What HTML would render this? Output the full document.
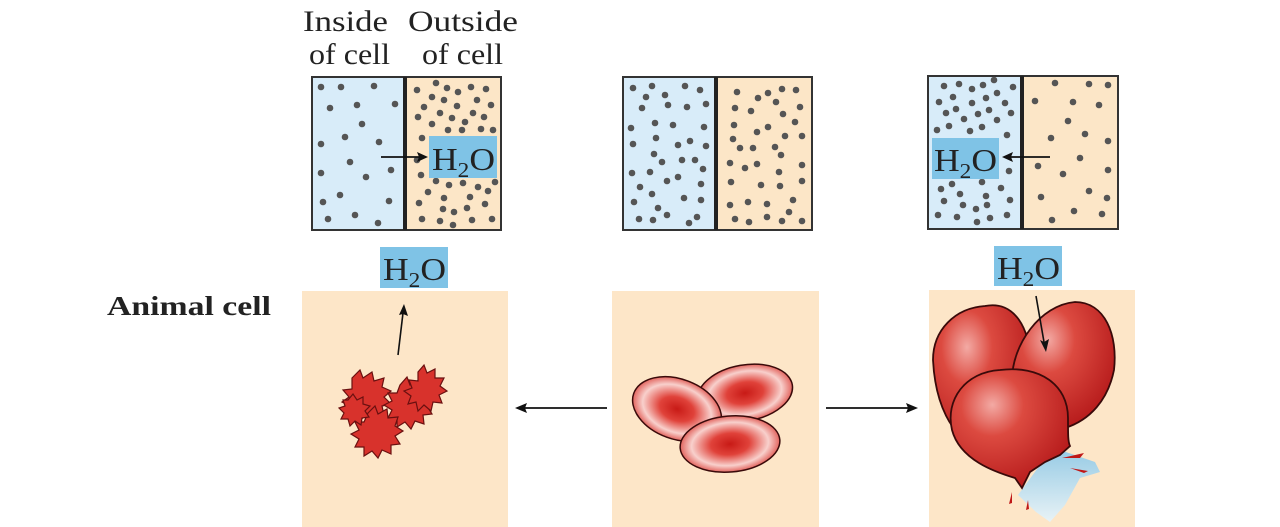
<!DOCTYPE html>
<html><head><meta charset="utf-8"><style>
html,body{margin:0;padding:0;background:#fff;width:1280px;height:527px;overflow:hidden}
svg text{font-family:"Liberation Serif",serif}
</style></head><body>
<svg width="1280" height="527" viewBox="0 0 1280 527" xmlns="http://www.w3.org/2000/svg">
<defs>
<radialGradient id="disc" cx="50%" cy="50%" r="55%"><stop offset="0" stop-color="#c81a16"/><stop offset="0.35" stop-color="#e0423a"/><stop offset="0.7" stop-color="#f8d0cc"/><stop offset="1" stop-color="#d9362f"/></radialGradient>
<radialGradient id="ball" cx="35%" cy="30%" r="75%"><stop offset="0" stop-color="#f3aaa4"/><stop offset="0.35" stop-color="#dc4a40"/><stop offset="1" stop-color="#b5191a"/></radialGradient>
<linearGradient id="spray" x1="0" y1="0" x2="0" y2="1"><stop offset="0" stop-color="#8cc8e8"/><stop offset="1" stop-color="#e6f4fb"/></linearGradient>
</defs>
<g font-size="30" fill="#222">
<text x="303" y="31" textLength="85" lengthAdjust="spacingAndGlyphs">Inside</text>
<text x="309" y="64" textLength="81" lengthAdjust="spacingAndGlyphs">of cell</text>
<text x="408" y="31" textLength="110" lengthAdjust="spacingAndGlyphs">Outside</text>
<text x="422" y="64" textLength="81" lengthAdjust="spacingAndGlyphs">of cell</text>
</g>
<!-- box1 -->
<rect x="312" y="77" width="94" height="153" fill="#d8ecf9"/>
<rect x="406" y="77" width="95" height="153" fill="#fce6c7"/>
<rect x="312" y="77" width="189" height="153" fill="none" stroke="#333" stroke-width="2"/>
<line x1="405" y1="77" x2="405" y2="230" stroke="#222" stroke-width="4"/>
<g fill="#555">
<circle cx="321" cy="87" r="3.3"/><circle cx="341" cy="87" r="3.3"/><circle cx="374" cy="86" r="3.3"/><circle cx="330" cy="108" r="3.3"/><circle cx="357" cy="105" r="3.3"/><circle cx="395" cy="104" r="3.3"/><circle cx="362" cy="124" r="3.3"/><circle cx="345" cy="137" r="3.3"/><circle cx="321" cy="144" r="3.3"/><circle cx="379" cy="142" r="3.3"/><circle cx="350" cy="162" r="3.3"/><circle cx="321" cy="173" r="3.3"/><circle cx="391" cy="170" r="3.3"/><circle cx="366" cy="177" r="3.3"/><circle cx="340" cy="195" r="3.3"/><circle cx="323" cy="202" r="3.3"/><circle cx="389" cy="201" r="3.3"/><circle cx="328" cy="219" r="3.3"/><circle cx="355" cy="215" r="3.3"/><circle cx="378" cy="223" r="3.3"/>
<circle cx="417" cy="90" r="3.3"/><circle cx="436" cy="83" r="3.3"/><circle cx="447" cy="88" r="3.3"/><circle cx="458" cy="92" r="3.3"/><circle cx="471" cy="87" r="3.3"/><circle cx="486" cy="89" r="3.3"/><circle cx="432" cy="97" r="3.3"/><circle cx="444" cy="100" r="3.3"/><circle cx="477" cy="100" r="3.3"/><circle cx="424" cy="107" r="3.3"/><circle cx="457" cy="106" r="3.3"/><circle cx="491" cy="105" r="3.3"/><circle cx="418" cy="117" r="3.3"/><circle cx="440" cy="113" r="3.3"/><circle cx="452" cy="118" r="3.3"/><circle cx="473" cy="113" r="3.3"/><circle cx="484" cy="117" r="3.3"/><circle cx="432" cy="124" r="3.3"/><circle cx="448" cy="130" r="3.3"/><circle cx="462" cy="130" r="3.3"/><circle cx="465" cy="122" r="3.3"/><circle cx="481" cy="129" r="3.3"/><circle cx="493" cy="130" r="3.3"/><circle cx="422" cy="138" r="3.3"/><circle cx="421" cy="175" r="3.3"/><circle cx="417" cy="160" r="3.3"/><circle cx="436" cy="181" r="3.3"/><circle cx="449" cy="185" r="3.3"/><circle cx="463" cy="183" r="3.3"/><circle cx="478" cy="187" r="3.3"/><circle cx="495" cy="182" r="3.3"/><circle cx="428" cy="192" r="3.3"/><circle cx="444" cy="198" r="3.3"/><circle cx="470" cy="197" r="3.3"/><circle cx="488" cy="191" r="3.3"/><circle cx="419" cy="203" r="3.3"/><circle cx="443" cy="209" r="3.3"/><circle cx="454" cy="212" r="3.3"/><circle cx="467" cy="208" r="3.3"/><circle cx="485" cy="204" r="3.3"/><circle cx="422" cy="219" r="3.3"/><circle cx="440" cy="221" r="3.3"/><circle cx="453" cy="225" r="3.3"/><circle cx="472" cy="220" r="3.3"/><circle cx="492" cy="219" r="3.3"/>
</g>
<rect x="429" y="136" width="68" height="42" fill="#7fc3e6"/>
<text x="432" y="170" font-size="32" fill="#222" textLength="63" lengthAdjust="spacingAndGlyphs">H<tspan font-size="21" dy="7">2</tspan><tspan dy="-7">O</tspan></text>
<line x1="381" y1="157" x2="420" y2="157" stroke="#111" stroke-width="1.8"/><path d="M428 157 L417 152 L419 157 L417 162Z" fill="#111"/>
<!-- box2 -->
<rect x="623" y="77" width="94" height="153" fill="#d8ecf9"/>
<rect x="717" y="77" width="95" height="153" fill="#fce6c7"/>
<rect x="623" y="77" width="189" height="153" fill="none" stroke="#333" stroke-width="2"/>
<line x1="716" y1="77" x2="716" y2="230" stroke="#222" stroke-width="4"/>
<g fill="#555">
<circle cx="633" cy="88" r="3.3"/><circle cx="652" cy="86" r="3.3"/><circle cx="685" cy="86" r="3.3"/><circle cx="700" cy="90" r="3.3"/><circle cx="646" cy="97" r="3.3"/><circle cx="665" cy="95" r="3.3"/><circle cx="642" cy="108" r="3.3"/><circle cx="668" cy="105" r="3.3"/><circle cx="687" cy="107" r="3.3"/><circle cx="706" cy="104" r="3.3"/><circle cx="631" cy="128" r="3.3"/><circle cx="655" cy="123" r="3.3"/><circle cx="673" cy="125" r="3.3"/><circle cx="704" cy="127" r="3.3"/><circle cx="633" cy="144" r="3.3"/><circle cx="656" cy="138" r="3.3"/><circle cx="678" cy="145" r="3.3"/><circle cx="690" cy="141" r="3.3"/><circle cx="706" cy="146" r="3.3"/><circle cx="654" cy="154" r="3.3"/><circle cx="662" cy="162" r="3.3"/><circle cx="682" cy="160" r="3.3"/><circle cx="695" cy="160" r="3.3"/><circle cx="703" cy="169" r="3.3"/><circle cx="632" cy="173" r="3.3"/><circle cx="650" cy="172" r="3.3"/><circle cx="667" cy="181" r="3.3"/><circle cx="678" cy="177" r="3.3"/><circle cx="701" cy="184" r="3.3"/><circle cx="640" cy="187" r="3.3"/><circle cx="652" cy="194" r="3.3"/><circle cx="634" cy="202" r="3.3"/><circle cx="658" cy="208" r="3.3"/><circle cx="684" cy="198" r="3.3"/><circle cx="701" cy="200" r="3.3"/><circle cx="639" cy="219" r="3.3"/><circle cx="653" cy="220" r="3.3"/><circle cx="667" cy="215" r="3.3"/><circle cx="689" cy="223" r="3.3"/><circle cx="697" cy="217" r="3.3"/>
<circle cx="737" cy="92" r="3.3"/><circle cx="758" cy="98" r="3.3"/><circle cx="768" cy="93" r="3.3"/><circle cx="782" cy="89" r="3.3"/><circle cx="796" cy="90" r="3.3"/><circle cx="776" cy="102" r="3.3"/><circle cx="735" cy="108" r="3.3"/><circle cx="751" cy="111" r="3.3"/><circle cx="800" cy="107" r="3.3"/><circle cx="783" cy="114" r="3.3"/><circle cx="734" cy="125" r="3.3"/><circle cx="757" cy="132" r="3.3"/><circle cx="768" cy="127" r="3.3"/><circle cx="795" cy="122" r="3.3"/><circle cx="733" cy="139" r="3.3"/><circle cx="740" cy="148" r="3.3"/><circle cx="753" cy="148" r="3.3"/><circle cx="785" cy="136" r="3.3"/><circle cx="802" cy="136" r="3.3"/><circle cx="775" cy="147" r="3.3"/><circle cx="781" cy="155" r="3.3"/><circle cx="730" cy="163" r="3.3"/><circle cx="745" cy="168" r="3.3"/><circle cx="757" cy="164" r="3.3"/><circle cx="779" cy="172" r="3.3"/><circle cx="802" cy="165" r="3.3"/><circle cx="731" cy="182" r="3.3"/><circle cx="761" cy="185" r="3.3"/><circle cx="780" cy="186" r="3.3"/><circle cx="802" cy="181" r="3.3"/><circle cx="730" cy="205" r="3.3"/><circle cx="748" cy="202" r="3.3"/><circle cx="767" cy="204" r="3.3"/><circle cx="793" cy="200" r="3.3"/><circle cx="789" cy="212" r="3.3"/><circle cx="735" cy="219" r="3.3"/><circle cx="749" cy="222" r="3.3"/><circle cx="767" cy="217" r="3.3"/><circle cx="782" cy="221" r="3.3"/><circle cx="802" cy="221" r="3.3"/>
</g>
<!-- box3 -->
<rect x="928" y="76" width="94" height="153" fill="#d8ecf9"/>
<rect x="1022" y="76" width="96" height="153" fill="#fce6c7"/>
<rect x="928" y="76" width="190" height="153" fill="none" stroke="#333" stroke-width="2"/>
<line x1="1022" y1="76" x2="1022" y2="229" stroke="#222" stroke-width="4"/>
<g fill="#555">
<circle cx="944" cy="86" r="3.3"/><circle cx="959" cy="84" r="3.3"/><circle cx="972" cy="89" r="3.3"/><circle cx="983" cy="85" r="3.3"/><circle cx="994" cy="80" r="3.3"/><circle cx="1013" cy="87" r="3.3"/><circle cx="997" cy="93" r="3.3"/><circle cx="953" cy="97" r="3.3"/><circle cx="939" cy="102" r="3.3"/><circle cx="972" cy="103" r="3.3"/><circle cx="986" cy="98" r="3.3"/><circle cx="1005" cy="103" r="3.3"/><circle cx="956" cy="109" r="3.3"/><circle cx="946" cy="113" r="3.3"/><circle cx="978" cy="114" r="3.3"/><circle cx="989" cy="110" r="3.3"/><circle cx="1011" cy="113" r="3.3"/><circle cx="964" cy="119" r="3.3"/><circle cx="997" cy="120" r="3.3"/><circle cx="937" cy="130" r="3.3"/><circle cx="949" cy="126" r="3.3"/><circle cx="970" cy="131" r="3.3"/><circle cx="982" cy="127" r="3.3"/><circle cx="1007" cy="135" r="3.3"/><circle cx="1009" cy="171" r="3.3"/><circle cx="941" cy="189" r="3.3"/><circle cx="952" cy="184" r="3.3"/><circle cx="982" cy="182" r="3.3"/><circle cx="1001" cy="188" r="3.3"/><circle cx="960" cy="194" r="3.3"/><circle cx="944" cy="201" r="3.3"/><circle cx="986" cy="196" r="3.3"/><circle cx="1010" cy="200" r="3.3"/><circle cx="963" cy="205" r="3.3"/><circle cx="976" cy="209" r="3.3"/><circle cx="987" cy="205" r="3.3"/><circle cx="938" cy="215" r="3.3"/><circle cx="957" cy="217" r="3.3"/><circle cx="977" cy="222" r="3.3"/><circle cx="990" cy="218" r="3.3"/><circle cx="1007" cy="215" r="3.3"/>
<circle cx="1055" cy="83" r="3.3"/><circle cx="1089" cy="84" r="3.3"/><circle cx="1108" cy="85" r="3.3"/><circle cx="1035" cy="101" r="3.3"/><circle cx="1073" cy="102" r="3.3"/><circle cx="1099" cy="105" r="3.3"/><circle cx="1068" cy="121" r="3.3"/><circle cx="1051" cy="138" r="3.3"/><circle cx="1085" cy="134" r="3.3"/><circle cx="1108" cy="141" r="3.3"/><circle cx="1080" cy="158" r="3.3"/><circle cx="1038" cy="166" r="3.3"/><circle cx="1063" cy="174" r="3.3"/><circle cx="1108" cy="170" r="3.3"/><circle cx="1089" cy="191" r="3.3"/><circle cx="1041" cy="197" r="3.3"/><circle cx="1107" cy="198" r="3.3"/><circle cx="1074" cy="211" r="3.3"/><circle cx="1102" cy="214" r="3.3"/><circle cx="1052" cy="220" r="3.3"/>
</g>
<rect x="932" y="138" width="67" height="41" fill="#7fc3e6"/>
<text x="934" y="171" font-size="32" fill="#222" textLength="63" lengthAdjust="spacingAndGlyphs">H<tspan font-size="21" dy="7">2</tspan><tspan dy="-7">O</tspan></text>
<line x1="1050" y1="157" x2="1010" y2="157" stroke="#111" stroke-width="1.8"/><path d="M1002 157 L1013 152 L1011 157 L1013 162Z" fill="#111"/>
<!-- lower H2O labels -->
<rect x="380" y="247" width="68" height="41" fill="#7fc3e6"/>
<text x="383" y="280" font-size="32" fill="#222" textLength="63" lengthAdjust="spacingAndGlyphs">H<tspan font-size="21" dy="7">2</tspan><tspan dy="-7">O</tspan></text>
<rect x="994" y="246" width="68" height="40" fill="#7fc3e6"/>
<text x="997" y="279" font-size="32" fill="#222" textLength="63" lengthAdjust="spacingAndGlyphs">H<tspan font-size="21" dy="7">2</tspan><tspan dy="-7">O</tspan></text>
<text x="107" y="315" font-size="27" font-weight="bold" fill="#222" textLength="164" lengthAdjust="spacingAndGlyphs">Animal cell</text>
<!-- panels -->
<rect x="302" y="291" width="206" height="236" fill="#fde6c8"/>
<rect x="612" y="291" width="207" height="236" fill="#fde6c8"/>
<rect x="929" y="290" width="206" height="237" fill="#fde6c8"/>
<!-- arrows between -->
<line x1="607" y1="408" x2="524" y2="408" stroke="#111" stroke-width="1.8"/><path d="M515 408 L527 403 L525 408 L527 413Z" fill="#111"/>
<line x1="826" y1="408" x2="909" y2="408" stroke="#111" stroke-width="1.8"/><path d="M918 408 L906 403 L908 408 L906 413Z" fill="#111"/>
<!-- crenated cells -->
<g fill="#d8322c" stroke="#6a1010" stroke-width="1.2">
<path d="M352 378 l8 -8 l3 8 l9 -6 l2 9 l10 -3 l-2 9 l9 4 l-7 6 l7 7 l-9 2 l2 9 l-9 -2 l-3 9 l-7 -6 l-7 6 l-2 -9 l-9 2 l3 -9 l-8 -4 l7 -5 l-6 -7 l9 -1 z"/>
<path d="M400 385 l7 -8 l3 8 l9 -5 l1 9 l10 -2 l-3 9 l8 5 l-8 5 l5 8 l-9 1 l1 9 l-9 -3 l-4 8 l-6 -7 l-8 5 l0 -9 l-9 0 l4 -8 l-8 -5 l8 -4 l-4 -8 l9 0 z"/>
<path d="M418 372 l6 -7 l3 8 l8 -4 l0 9 l9 0 l-4 8 l7 5 l-8 4 l3 8 l-9 -1 l-2 9 l-7 -6 l-6 6 l-2 -9 l-8 2 l3 -8 l-7 -5 l8 -3 l-3 -8 l9 1 z"/>
<path d="M368 413 l7 -7 l3 8 l9 -5 l1 9 l10 -1 l-3 9 l8 5 l-8 5 l5 8 l-9 1 l0 9 l-9 -4 l-4 8 l-6 -7 l-8 5 l0 -9 l-9 0 l4 -8 l-8 -5 l8 -4 l-4 -8 l9 0 z"/>
<path d="M348 400 l5 -6 l4 6 l6 -3 l0 7 l7 2 l-5 5 l4 6 l-7 1 l-1 7 l-6 -4 l-5 5 l-2 -7 l-7 0 l3 -6 l-5 -5 l6 -2 l-2 -6 z"/>
</g>
<line x1="398" y1="355" x2="403" y2="313" stroke="#111" stroke-width="1.6"/><path d="M404 304 L408 316 L403 314 L399 315Z" fill="#111"/>
<!-- RBCs -->
<g stroke="#3a0a0a" stroke-width="1.5">
<ellipse cx="745" cy="393" rx="48" ry="28" transform="rotate(-10 745 393)" fill="url(#disc)"/>
<ellipse cx="677" cy="409" rx="46" ry="30" transform="rotate(20 677 409)" fill="url(#disc)"/>
<ellipse cx="730" cy="444" rx="50" ry="28" transform="rotate(-5 730 444)" fill="url(#disc)"/>
</g>
<!-- spray behind -->
<path d="M1040 465 L1060 450 L1095 462 L1100 472 L1080 478 L1065 505 L1050 522 L1036 512 L1018 495 Z" fill="url(#spray)" opacity="0.9"/>
<!-- swollen cells -->
<g stroke="#3a0a0a" stroke-width="1.8" fill="url(#ball)">
<path d="M985 306 C1015 300 1030 330 1030 360 C1028 400 1005 440 980 445 C950 440 935 400 933 360 C933 330 955 308 985 306Z"/>
<path d="M1075 302 C1105 302 1118 335 1114 370 C1108 400 1090 420 1065 428 C1040 425 1015 405 1012 380 C1012 345 1040 305 1075 302Z"/>
<path d="M1000 370 C1040 365 1068 385 1068 418 C1068 435 1068 442 1070 446 L1060 455 L1045 462 L1030 472 L1022 488 L1015 478 C995 472 960 460 952 430 C945 400 965 372 1000 370Z"/>
</g>
<g fill="#c01818"><path d="M1062 458 l22 -5 l-4 5z"/><path d="M1070 468 l18 3 l-4 2z"/><path d="M1012 492 l-3 12 l3 -1z"/><path d="M1028 500 l-2 10 l3 -1z"/></g>
<line x1="1036" y1="296" x2="1044" y2="342" stroke="#111" stroke-width="1.6"/><path d="M1046 352 L1040 340 L1044 342 L1049 339Z" fill="#111"/>
</svg>
</body></html>
